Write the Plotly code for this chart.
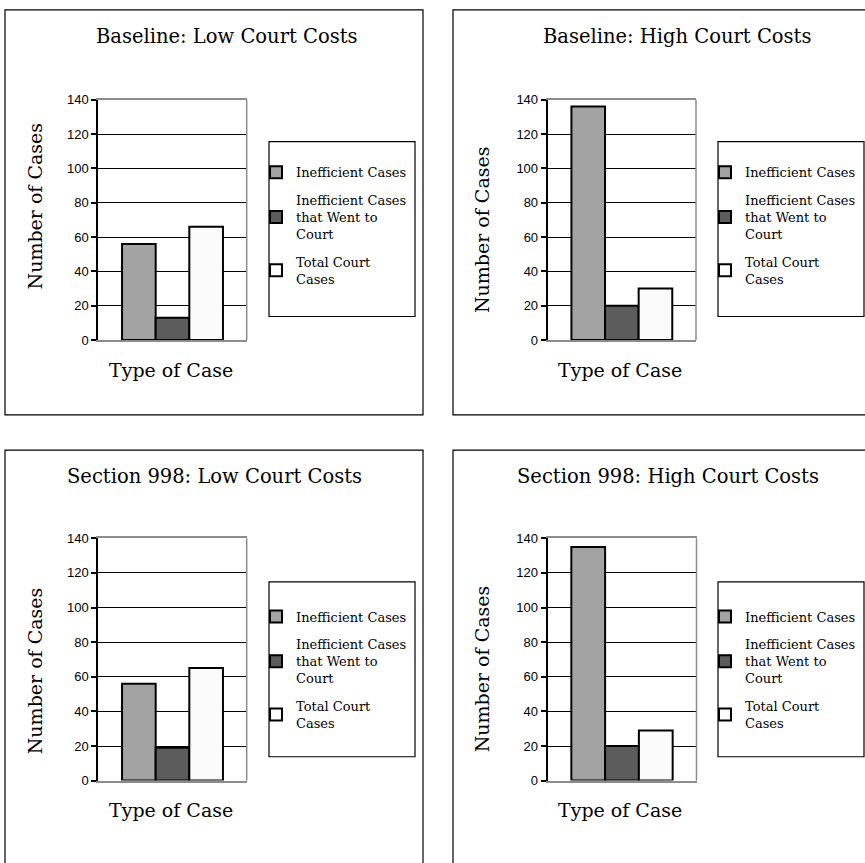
import plotly.graph_objects as go

W, H = 865, 863

panel_titles = ["Baseline: Low Court Costs", "Baseline: High Court Costs",
                "Section 998: Low Court Costs", "Section 998: High Court Costs"]
series_names = ["Inefficient Cases", "Inefficient Cases<br>that Went to<br>Court", "Total Court<br>Cases"]
series_colors = ["#a3a3a3", "#5c5c5c", "#fbfbfb"]
category = ["Type of Case"]
inefficient = [56, 136, 56, 135]
inefficient_court = [13, 20, 19, 20]
total_court = [66, 30, 65, 29]
y_ticks = [0, 20, 40, 60, 80, 100, 120, 140]

series_values = [inefficient, inefficient_court, total_court]

def px(x):
    return x / W

def py(y):
    return 1 - y / H

panels = [
    dict(px0=98.3, px1=246.7, pt=94.3, pb=339.0, fx0=5, fy0=3, fx1=423, fy1=415,
         lx0=269, ly0=137, lx1=415, ly1=315, legtop=153,
         tcx=227, tcy=30, ycx=35, ycy=203, xcx=171, xcy=369),
    dict(px0=547.7, px1=696.0, pt=94.3, pb=339.0, fx0=453, fy0=3, fx1=880, fy1=415,
         lx0=718, ly0=137, lx1=864, ly1=315, legtop=153,
         tcx=676.5, tcy=30, ycx=482, ycy=227, xcx=620, xcy=369),
    dict(px0=98.3, px1=246.7, pt=540.7, pb=787.3, fx0=5, fy0=451, fx1=423, fy1=880,
         lx0=269, ly0=585, lx1=415, ly1=763, legtop=605,
         tcx=214.5, tcy=478, ycx=35, ycy=676, xcx=171, xcy=817),
    dict(px0=547.5, px1=696.5, pt=540.7, pb=787.3, fx0=453, fy0=451, fx1=880, fy1=880,
         lx0=718, ly0=585, lx1=864, ly1=763, legtop=605,
         tcx=667.5, tcy=478, ycx=482, ycy=674, xcx=620, xcy=817),
]

serif = "DejaVu Serif"
sans = "Liberation Sans"

fig = go.Figure()
shapes = []
annotations = []
layout_extra = {}

for i, p in enumerate(panels):
    n = i + 1
    xa = "x" if n == 1 else f"x{n}"
    ya = "y" if n == 1 else f"y{n}"
    leg = "legend" if n == 1 else f"legend{n}"
    for s in range(3):
        fig.add_trace(go.Bar(
            x=category, y=[series_values[s][i]], name=series_names[s],
            marker=dict(color=series_colors[s], line=dict(color="black", width=2)),
            xaxis=xa, yaxis=ya, legend=leg, legendgroup=f"g{n}_{s}",
            showlegend=True,
        ))
    xkey = "xaxis" if n == 1 else f"xaxis{n}"
    ykey = "yaxis" if n == 1 else f"yaxis{n}"
    layout_extra[xkey] = dict(domain=[px(p["px0"]), px(p["px1"])], anchor=ya,
                              showticklabels=False, showgrid=False, zeroline=False,
                              showline=True, linecolor="#8c8c8c", linewidth=1.5, mirror=True,
                              ticks="", fixedrange=True)
    layout_extra[ykey] = dict(domain=[py(p["pb"]), py(p["pt"])], anchor=xa,
                              range=[0, 140], tickvals=y_ticks, ticks="outside", ticklen=5,
                              tickcolor="black", tickwidth=1.5,
                              showline=True, linecolor="black", linewidth=2,
                              showgrid=True, gridcolor="black", gridwidth=1,
                              zeroline=False, tickfont=dict(family=sans, size=13, color="black"),
                              ticklabelstandoff=0, fixedrange=True)
    # gray right border of the plot area
    shapes.append(dict(type="line", xref=f"{xa} domain", yref=f"{ya} domain",
                       x0=1, x1=1, y0=0, y1=1, line=dict(color="#8c8c8c", width=1.5),
                       layer="above"))
    # outer frame
    shapes.append(dict(type="rect", xref="paper", yref="paper",
                       x0=px(p["fx0"]), x1=px(p["fx1"]), y0=py(p["fy1"]), y1=py(p["fy0"]),
                       line=dict(color="black", width=1.2)))
    # legend box
    shapes.append(dict(type="rect", xref="paper", yref="paper",
                       x0=px(p["lx0"]), x1=px(p["lx1"]), y0=py(p["ly1"]), y1=py(p["ly0"]),
                       line=dict(color="black", width=1.2)))
    layout_extra[leg] = dict(x=px(p["lx0"] - 13), y=py(p["legtop"]), xanchor="left", yanchor="top",
                             bgcolor="rgba(0,0,0,0)", borderwidth=0,
                             font=dict(family=serif, size=13, color="black"),
                             tracegroupgap=8, itemclick=False, itemdoubleclick=False)
    annotations.append(dict(text=panel_titles[i], x=px(p["tcx"]), y=py(p["tcy"]),
                            xref="paper", yref="paper", showarrow=False,
                            xanchor="center", yanchor="middle",
                            font=dict(family=serif, size=19.5, color="black")))
    annotations.append(dict(text="Number of Cases", x=px(p["ycx"]), y=py(p["ycy"]),
                            xref="paper", yref="paper", showarrow=False, textangle=-90,
                            xanchor="center", yanchor="middle",
                            font=dict(family=serif, size=19, color="black")))
    annotations.append(dict(text="Type of Case", x=px(p["xcx"]), y=py(p["xcy"]),
                            xref="paper", yref="paper", showarrow=False,
                            xanchor="center", yanchor="middle",
                            font=dict(family=serif, size=19, color="black")))

fig.update_layout(
    width=W, height=H, margin=dict(l=0, r=0, t=0, b=0),
    paper_bgcolor="white", plot_bgcolor="white",
    barmode="group", bargap=0.32, bargroupgap=0,
    shapes=shapes, annotations=annotations, **layout_extra,
)

fig.write_html("out.html", post_script="document.body.style.margin='0';",
               config={"displayModeBar": False})
